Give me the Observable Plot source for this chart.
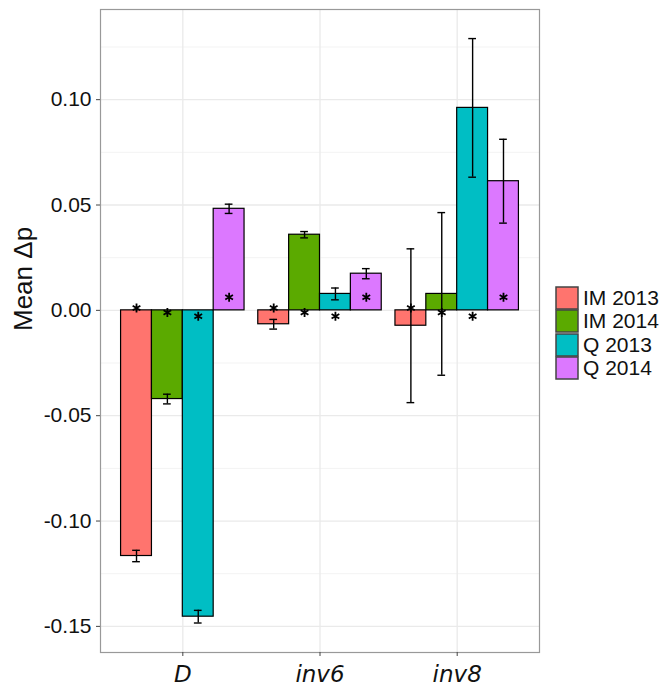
<!DOCTYPE html>
<html>
<head>
<meta charset="utf-8">
<script src="https://cdn.jsdelivr.net/npm/d3@7"></script>
<script src="https://cdn.jsdelivr.net/npm/@observablehq/plot@0.6"></script>
<style>
  body { margin: 0; background: #fff; }
  #wrap { position: relative; width: 662px; height: 686px; font-family: "Liberation Sans", Arial, sans-serif; }
  #legend { position: absolute; left: 556px; top: 287px; }
  #legend .lg-swatches { font-family: "Liberation Sans", Arial, sans-serif; font-size: 21px; color: #111; margin: 0; }
  #legend .lg-swatch { padding-bottom: 1.3px; }
  #legend .lg-swatch > svg { margin-right: 5px; }
  #legend .lg-swatch svg rect { stroke: #444; stroke-width: 1.5px; }
  #legend .lg-swatch-label { line-height: 22px; }
</style>
</head>
<body>
<div id="wrap"><div id="chart"></div><div id="legend"></div></div>
<script>
const categories = ["D", "inv6", "inv8"];
const series = ["IM 2013", "IM 2014", "Q 2013", "Q 2014"];
const colors = ["#FF746E", "#5BAA00", "#00BEC4", "#DC78FF"];

// mean Δp per series, in category order
const meanIM2013 = [-0.1166, -0.0066, -0.0073];
const meanIM2014 = [-0.0421, 0.0359, 0.0078];
const meanQ2013  = [-0.1454, 0.0078, 0.0961];
const meanQ2014  = [0.0482, 0.0174, 0.0613];

// error bar half-widths
const errIM2013 = [0.0027, 0.0023, 0.0365];
const errIM2014 = [0.0023, 0.0015, 0.0386];
const errQ2013  = [0.0030, 0.0028, 0.0329];
const errQ2014  = [0.0022, 0.0024, 0.0199];

// asterisk marker value for each series
const asteriskY = [0.0011, -0.0010, -0.0028, 0.0062];

const yTicks = [-0.15, -0.10, -0.05, 0.00, 0.05, 0.10];
const yMinor = [-0.125, -0.075, -0.025, 0.025, 0.075, 0.125];

const means = [meanIM2013, meanIM2014, meanQ2013, meanQ2014];
const errs = [errIM2013, errIM2014, errQ2013, errQ2014];

const dodge = 0.9, barW = dodge / series.length, capHalf = barW * 0.125;
const rows = [];
series.forEach((s, si) => {
  categories.forEach((c, ci) => {
    const x1 = ci - dodge / 2 + si * barW;
    rows.push({
      category: c, series: s,
      x1, x2: x1 + barW, xc: x1 + barW / 2,
      mean: means[si][ci],
      lo: means[si][ci] - errs[si][ci],
      hi: means[si][ci] + errs[si][ci],
      star: asteriskY[si]
    });
  });
});

const chart = Plot.plot({
  width: 662,
  height: 686,
  marginLeft: 100,
  marginRight: 123,
  marginTop: 9,
  marginBottom: 34,
  style: { fontFamily: "Liberation Sans, Arial, sans-serif", background: "white", color: "#111" },
  x: { domain: [-0.6, 2.6] },
  y: { domain: [-0.1624, 0.1428] },
  color: { domain: series, range: colors },
  marks: [
    Plot.ruleY(yMinor, { stroke: "#F3F3F3", strokeWidth: 1 }),
    Plot.ruleY(yTicks, { stroke: "#EAEAEA", strokeWidth: 1.3 }),
    Plot.ruleX([0, 1, 2], { stroke: "#EAEAEA", strokeWidth: 1.3 }),
    Plot.rectY(rows, { x1: "x1", x2: "x2", y1: 0, y2: "mean", fill: "series", stroke: "black", strokeWidth: 1.2 }),
    Plot.ruleX(rows, { x: "xc", y1: "lo", y2: "hi", stroke: "black", strokeWidth: 1.4 }),
    Plot.ruleY(rows, { y: "hi", x1: d => d.xc - capHalf, x2: d => d.xc + capHalf, stroke: "black", strokeWidth: 1.4 }),
    Plot.ruleY(rows, { y: "lo", x1: d => d.xc - capHalf, x2: d => d.xc + capHalf, stroke: "black", strokeWidth: 1.4 }),
    Plot.dot(rows, { x: "xc", y: "star", symbol: "asterisk", r: 4.2, stroke: "black", strokeWidth: 1.8 }),
    Plot.frame({ stroke: "#999", strokeWidth: 1.2 }),
    Plot.axisY({ ticks: yTicks, tickFormat: d => d.toFixed(2), fontSize: 21, tickSize: 4, tickPadding: 5, label: null, stroke: "#444" }),
    Plot.axisX({ ticks: [0, 1, 2], tickFormat: i => categories[i], fontSize: 23, fontStyle: "italic", fontFamily: "DejaVu Sans", tickSize: 4, tickPadding: 9, label: null, stroke: "#444" }),
    Plot.text(["Mean Δp"], { frameAnchor: "left", dx: -77, rotate: -90, fontSize: 26, fill: "#111" })
  ]
});
document.getElementById("chart").appendChild(chart);

const legend = Plot.legend({
  color: { domain: series, range: colors },
  legend: "swatches",
  columns: 1,
  swatchSize: 22,
  className: "lg"
});
document.getElementById("legend").appendChild(legend);
</script>
</body>
</html>
